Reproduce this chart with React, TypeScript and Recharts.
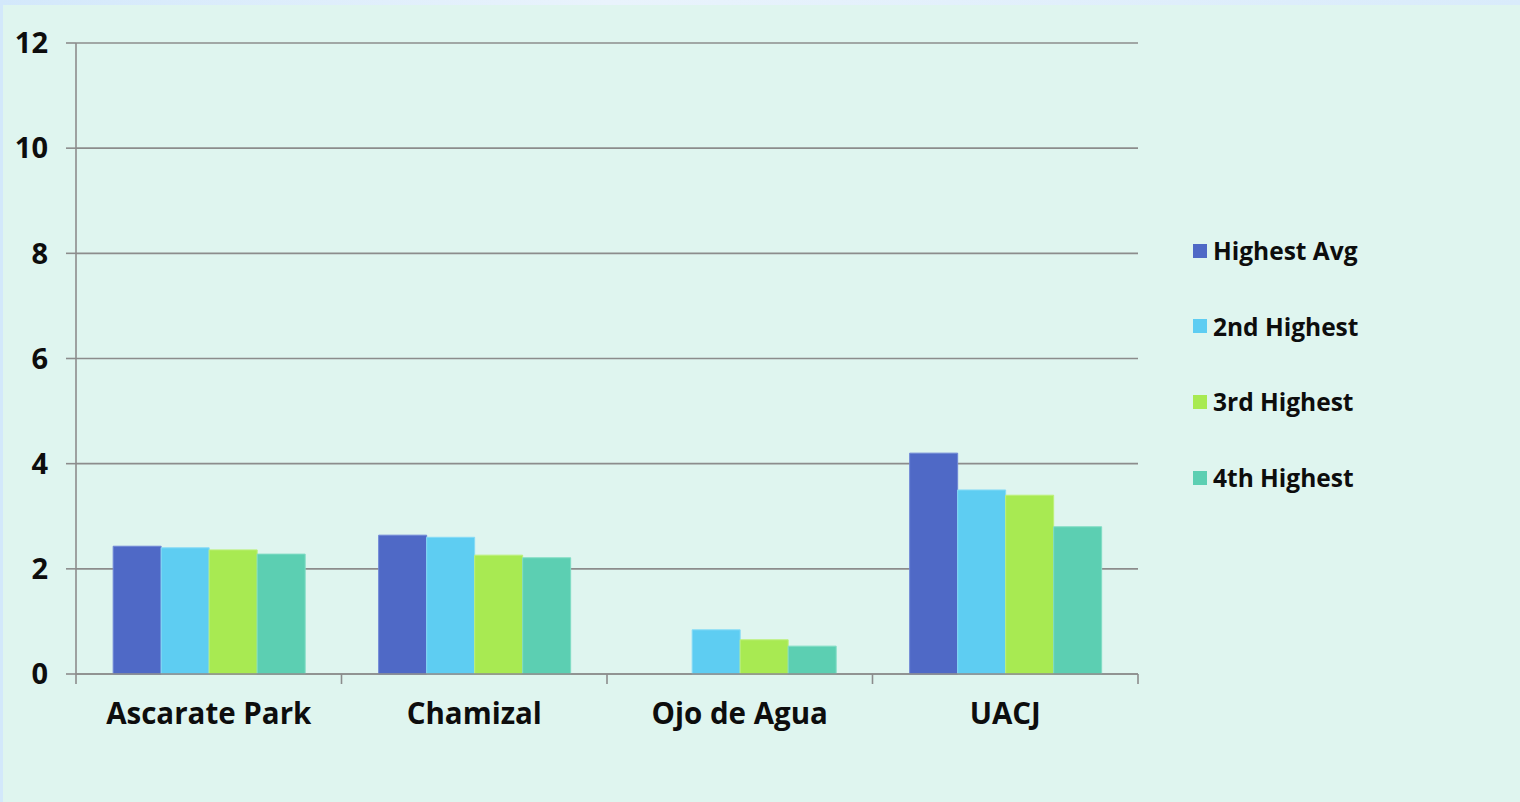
import React from 'react';
import { BarChart, Bar, XAxis, YAxis, CartesianGrid, Legend } from 'recharts';

const categories = ['Ascarate Park', 'Chamizal', 'Ojo de Agua', 'UACJ'];
const highestAvg: (number | null)[] = [2.43, 2.64, null, 4.2];
const secondHighest = [2.4, 2.6, 0.84, 3.5];
const thirdHighest = [2.36, 2.26, 0.65, 3.4];
const fourthHighest = [2.28, 2.21, 0.53, 2.8];
const yTicks = [0, 2, 4, 6, 8, 10, 12];
const edgeTicks = [0, 1, 2, 3, 4];

const seriesNames = ['Highest Avg', '2nd Highest', '3rd Highest', '4th Highest'];
const seriesKeys = ['h1', 'h2', 'h3', 'h4'];
const seriesColors = ['#4f69c6', '#5ecdf2', '#a8ea52', '#5ccfb2'];
const seriesStrokes = ['#6f87d6', '#86dbf6', '#bdf07a', '#80dcc4'];

const data = categories.map((name, i) => ({
  name,
  idx: i + 0.5,
  h1: highestAvg[i],
  h2: secondHighest[i],
  h3: thirdHighest[i],
  h4: fourthHighest[i],
}));

const FONT = "'Open Sans', 'DejaVu Sans', sans-serif";

const LegendContent = () => (
  <div style={{ width: 200, paddingLeft: 55, boxSizing: 'border-box', fontFamily: FONT }}>
    {seriesNames.map((n, i) => (
      <div key={n} style={{ height: 75.6, display: 'flex', alignItems: 'center' }}>
        <div style={{ width: 14, height: 14, background: seriesColors[i], marginRight: 6, flexShrink: 0 }} />
        <span style={{ fontSize: 24.5, fontWeight: 700, color: '#0d0d0d', whiteSpace: 'nowrap' }}>{n}</span>
      </div>
    ))}
  </div>
);

const EmptyTick = () => <g />;

export default function App() {
  return (
    <div style={{ position: 'relative', width: 1520, height: 802, background: 'linear-gradient(90deg, #d3e8fb, #e9f3fc 40%, #d9ebfb)', overflow: 'hidden' }}>
      <style>{'body{margin:0;}'}</style>
      <div style={{ position: 'absolute', left: 3, top: 5, right: 0, bottom: 0, background: '#dff5ef' }} />
      <div style={{ position: 'absolute', left: 0, top: 0 }}>
        <BarChart
          width={1520}
          height={802}
          data={data}
          margin={{ top: 43, right: 182, bottom: 0, left: 0 }}
          barCategoryGap="14%"
          barGap={0}
        >
          <CartesianGrid xAxisId="zCat" vertical={false} stroke="#8c8c8c" strokeWidth={1.6} />
          <XAxis
            xAxisId="aEdges"
            type="number"
            dataKey="idx"
            domain={[0, 4]}
            ticks={edgeTicks}
            interval={0}
            height={1}
            tick={EmptyTick}
            tickLine={{ stroke: '#8c8c8c', strokeWidth: 1.6 }}
            tickSize={10}
            stroke="#8c8c8c"
            strokeWidth={1.6}
            allowDataOverflow
          />
          <XAxis
            xAxisId="zCat"
            dataKey="name"
            height={127}
            axisLine={false}
            tickLine={false}
            tickSize={0}
            tickMargin={28}
            interval={0}
            tick={{ fill: '#0d0d0d', fontSize: 29.5, fontWeight: 700, fontFamily: FONT }}
          />
          <YAxis
            domain={[0, 12]}
            ticks={yTicks}
            width={76}
            tickSize={10}
            tickMargin={18}
            stroke="#8c8c8c"
            strokeWidth={1.6}
            tick={{ fill: '#0d0d0d', fontSize: 29, fontWeight: 700, fontFamily: FONT }}
          />
          <Legend
            layout="vertical"
            align="right"
            verticalAlign="middle"
            content={LegendContent}
            wrapperStyle={{ top: 213, width: 200 }}
          />
          {seriesKeys.map((k, i) => (
            <Bar
              key={k}
              xAxisId="zCat"
              dataKey={k}
              name={seriesNames[i]}
              fill={seriesColors[i]}
              stroke={seriesStrokes[i]}
              strokeWidth={1}
              isAnimationActive={false}
            />
          ))}
        </BarChart>
      </div>
    </div>
  );
}
